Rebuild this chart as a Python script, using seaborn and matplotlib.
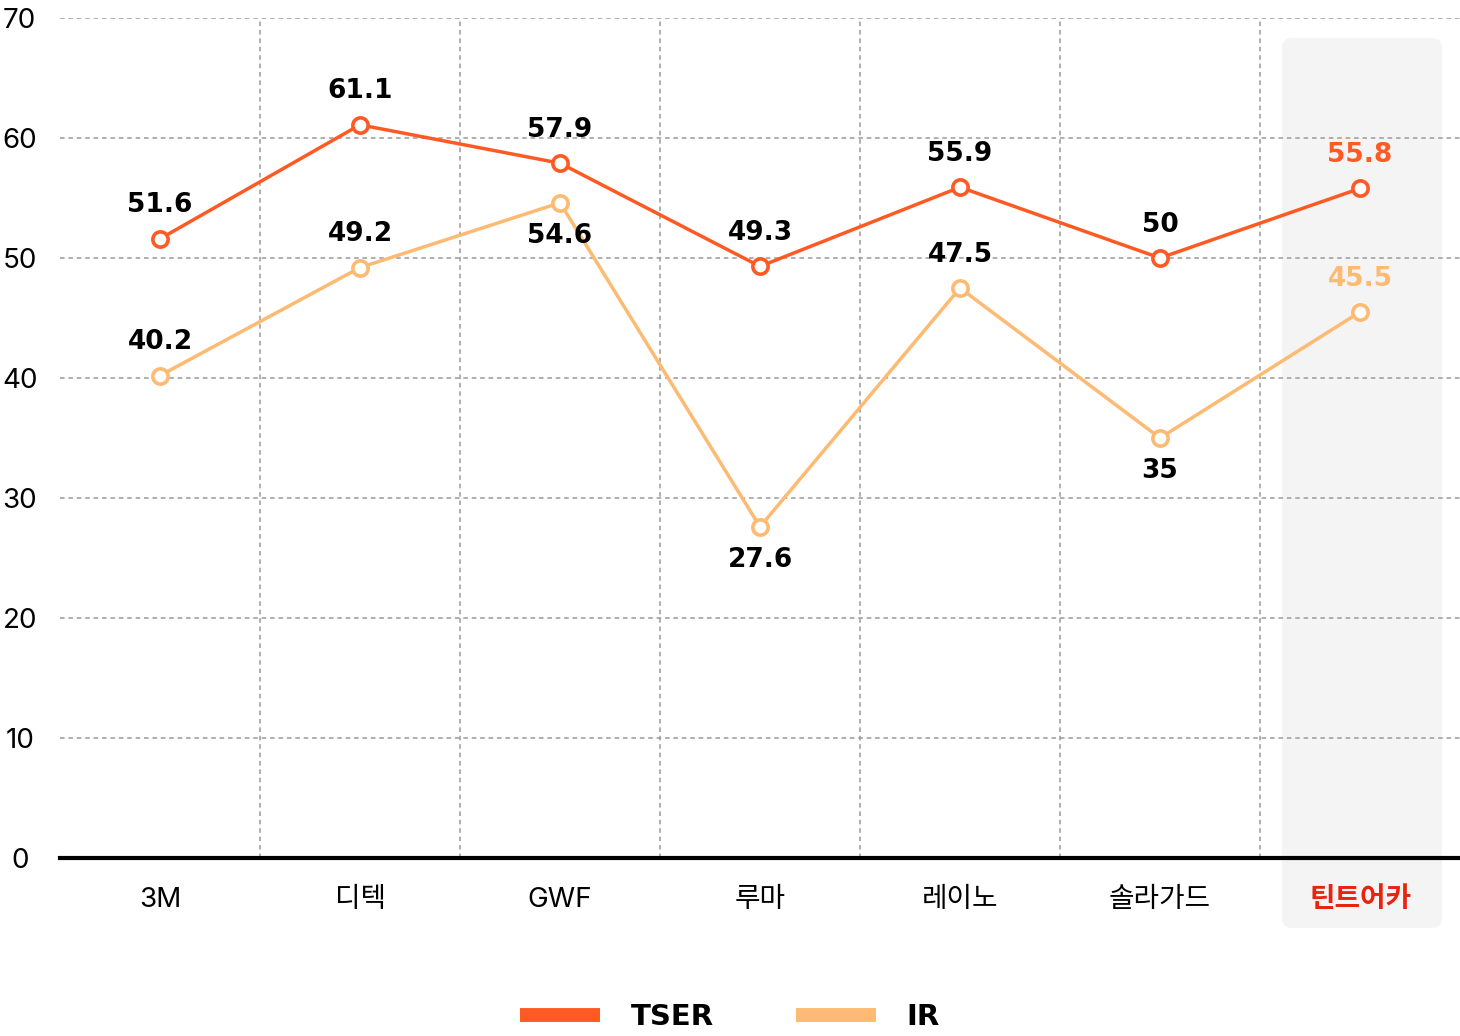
import pandas as pd
import matplotlib.pyplot as plt
import seaborn as sns
from matplotlib.patches import FancyBboxPatch
from matplotlib.lines import Line2D

brands = ['3M', '디텍', 'GWF', '루마', '레이노', '솔라가드', '틴트어카']
tser = [51.6, 61.1, 57.9, 49.3, 55.9, 50, 55.8]
ir = [40.2, 49.2, 54.6, 27.6, 47.5, 35, 45.5]
ir_label_below = [False, False, True, True, False, True, False]
series_names = ['TSER', 'IR']
series_colors = ['#FF5A24', '#FDBA72']

sns.set_style('white')
plt.rcParams['font.family'] = ['Inter', 'Noto Sans CJK KR', 'DejaVu Sans']

df = pd.DataFrame({
    'brand': brands * 2,
    'value': tser + ir,
    'series': ['TSER'] * len(brands) + ['IR'] * len(brands),
})

fig = plt.figure(figsize=(14.6, 10.36), dpi=100)
ax = fig.add_axes([60 / 1460, 178 / 1036, 1400 / 1460, 840 / 1036])

# highlight box behind the last brand
hl = FancyBboxPatch((5.61, -5.83), 0.80, 74.16,
                    boxstyle='round,pad=0,rounding_size=0.05',
                    mutation_aspect=16.7, transform=ax.transData,
                    facecolor='#F4F4F4', edgecolor='none', clip_on=False, zorder=0)
ax.add_patch(hl)

# grid
for v in range(10, 71, 10):
    ax.axhline(v, color='#9A9A9A', lw=1.1, ls=(0, (3, 2.5)), zorder=1)
for i in range(len(brands) - 1):
    ax.axvline(i + 0.5, color='#9A9A9A', lw=1.1, ls=(0, (3, 2.5)), zorder=1)

sns.lineplot(data=df, x='brand', y='value', hue='series', hue_order=series_names,
             palette=series_colors, marker='o', markersize=11,
             markerfacecolor='white', markeredgewidth=2.6, linewidth=2.5,
             legend=False, sort=False, ax=ax, zorder=3)
for ln, c in zip(ax.lines[-2:], series_colors):
    ln.set_markeredgecolor(c)

label_font = dict(family='DejaVu Sans', weight='bold', fontsize=19)
n = len(brands)
for i in range(n):
    col = series_colors[0] if i == n - 1 else 'black'
    ax.annotate(f'{tser[i]:g}', (i, tser[i]), xytext=(0, 24), textcoords='offset points',
                ha='center', va='center', color=col, zorder=4, **label_font)
    col = series_colors[1] if i == n - 1 else 'black'
    off = -24 if ir_label_below[i] else 24
    ax.annotate(f'{ir[i]:g}', (i, ir[i]), xytext=(0, off), textcoords='offset points',
                ha='center', va='center', color=col, zorder=4, **label_font)

ax.set_xlim(-0.5, n - 0.5)
ax.set_ylim(0, 70)
ax.set_yticks(range(0, 71, 10))
ax.set_xlabel('')
ax.set_ylabel('')
ax.tick_params(axis='y', length=0, pad=29, labelsize=20, labelcolor='black')
ax.tick_params(axis='x', length=0, pad=21, labelsize=20, labelcolor='black')
for t in ax.get_yticklabels():
    t.set_horizontalalignment('center')
xt = ax.get_xticklabels()
xt[-1].set_color('#E8230F')
xt[-1].set_fontweight('bold')

for s in ['top', 'right', 'left']:
    ax.spines[s].set_visible(False)
ax.spines['bottom'].set_color('black')
ax.spines['bottom'].set_linewidth(3)
ax.spines['bottom'].set_zorder(5)

handles = [Line2D([0], [0], color=c, lw=10, solid_capstyle='butt') for c in series_colors]
fig.legend(handles, series_names, loc='center', bbox_to_anchor=(0.5, 0.018), ncol=2,
           frameon=False, handlelength=2.75, handletextpad=1.05, columnspacing=2.8,
           labelcolor='black', prop=dict(family='DejaVu Sans', weight='bold', size=21))

fig.savefig('out.png', dpi=100)
